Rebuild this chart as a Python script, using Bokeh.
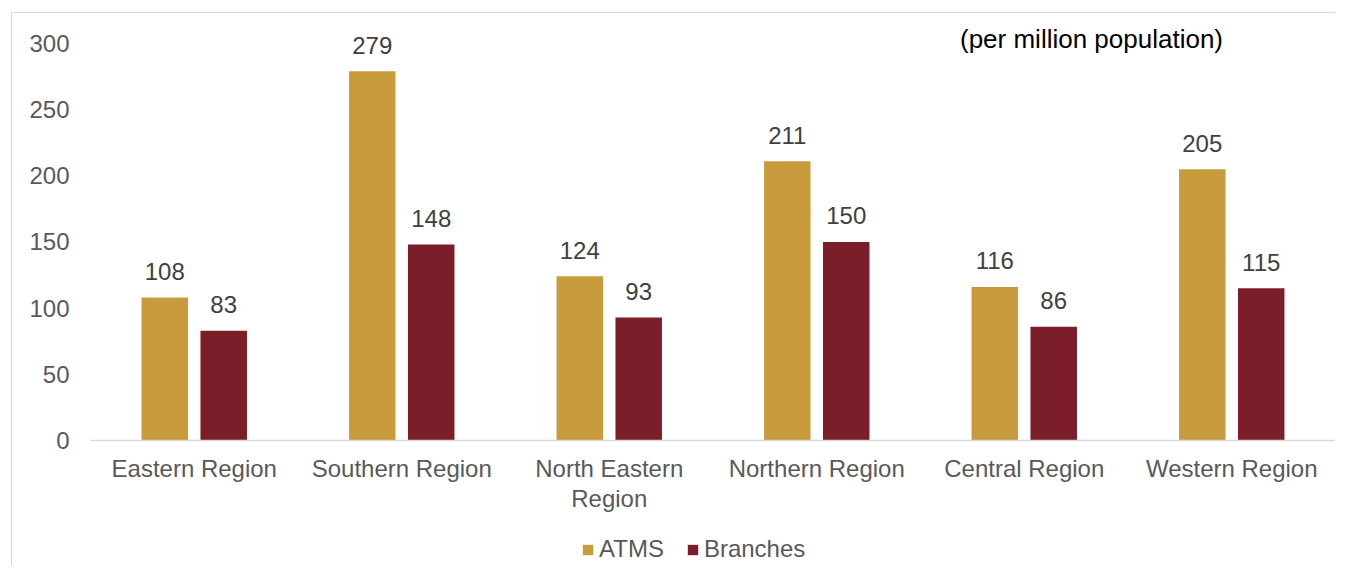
from bokeh.plotting import figure
from bokeh.layouts import column
from bokeh.models import (ColumnDataSource, FactorRange, Range1d, Legend, LegendItem, Label,
                          CategoricalAxis, CustomJSTickFormatter)
from bokeh.transform import dodge
from bokeh.core.properties import value
from bokeh.embed import file_html
from bokeh.resources import INLINE

regions = ["Eastern Region", "Southern Region", "North Eastern Region",
           "Northern Region", "Central Region", "Western Region"]
# two-line tick label for the long category
wrapped_region = "North Eastern Region"
wrapped_first, wrapped_second = "North Eastern", "Region"
atms = [108, 279, 124, 211, 116, 205]
branches = [83, 148, 93, 150, 86, 115]
y_ticks = [0, 50, 100, 150, 200, 250, 300]
series_names = ["ATMS", "Branches"]

FONT = "Liberation Sans"
ATM_COLOR = "#C89B3C"
BR_COLOR = "#7B1E2A"
TICK_COLOR = "#595959"
BORDER = "1px solid #D9D9D9"
FS = "24px"

src = ColumnDataSource(dict(
    region=regions,
    atms=atms,
    branches=branches,
    atms_lbl=[str(v) for v in atms],
    br_lbl=[str(v) for v in branches],
))

xr = FactorRange(*regions, range_padding=0)

p = figure(
    x_range=xr,
    y_range=Range1d(0, 312),
    width=1324, height=501,
    output_backend="svg", toolbar_location=None,
    min_border_left=78, min_border_right=1,
    min_border_top=14, min_border_bottom=70,
    margin=(12, 0, 0, 11),
)
p.styles = {"border-top": BORDER, "border-left": BORDER}
p.outline_line_color = None
p.background_fill_color = "white"
p.border_fill_color = "white"
p.xgrid.visible = False
p.ygrid.visible = False

off = 0.142
w = 0.224
p.vbar(x=dodge("region", -off, range=xr), top="atms", width=w,
       source=src, fill_color=ATM_COLOR, line_color=None)
p.vbar(x=dodge("region", off, range=xr), top="branches", width=w,
       source=src, fill_color=BR_COLOR, line_color=None)

p.text(x=dodge("region", -off, range=xr), y="atms", text="atms_lbl", source=src,
       text_align="center", text_baseline="alphabetic", y_offset=-26,
       text_font=value(FONT), text_font_size=FS, text_color="#404040")
p.text(x=dodge("region", off, range=xr), y="branches", text="br_lbl", source=src,
       text_align="center", text_baseline="alphabetic", y_offset=-26,
       text_font=value(FONT), text_font_size=FS, text_color="#404040")

# y axis
p.yaxis.ticker = y_ticks
p.yaxis.axis_line_color = None
p.yaxis.major_tick_line_color = None
p.yaxis.minor_tick_line_color = None
p.yaxis.major_tick_out = 0
p.yaxis.major_label_standoff = 21
p.yaxis.major_label_text_font = FONT
p.yaxis.major_label_text_font_size = FS
p.yaxis.major_label_text_color = TICK_COLOR

# x axis (first line of labels)
xa = p.xaxis[0]
xa.axis_line_color = "#D9D9D9"
xa.axis_line_width = 1.5
xa.major_tick_line_color = None
xa.minor_tick_line_color = None
xa.major_tick_out = 0
xa.major_label_standoff = 14
xa.major_label_text_font = FONT
xa.major_label_text_font_size = FS
xa.major_label_text_color = TICK_COLOR
xa.formatter = CustomJSTickFormatter(
    args=dict(full=wrapped_region, first=wrapped_first),
    code="return tick == full ? first : tick;")

# second line of the wrapped tick label
xa2 = CategoricalAxis(
    formatter=CustomJSTickFormatter(
        args=dict(full=wrapped_region, second=wrapped_second),
        code="return tick == full ? second : '';"),
    axis_line_color=None, major_tick_line_color=None, minor_tick_line_color=None,
    major_tick_out=0, major_tick_in=0, major_label_standoff=0,
    major_label_text_font=FONT, major_label_text_font_size=FS,
    major_label_text_color=TICK_COLOR,
)
p.add_layout(xa2, "below")

note = Label(x=1001, y=303, x_units="screen", y_units="data",
             text="(per million population)", text_align="center", text_baseline="middle",
             text_font=FONT, text_font_size="26px", text_color="#000000")
p.add_layout(note)

# legend strip below the chart (same bars, kept out of view; only their swatches show)
p2 = figure(
    x_range=xr, y_range=Range1d(1000, 1001),
    width=1324, height=53,
    output_backend="svg", toolbar_location=None,
    x_axis_location=None, y_axis_location=None,
    min_border_left=0, min_border_right=0, min_border_top=0, min_border_bottom=0,
    margin=(0, 0, 0, 11),
)
p2.styles = {"border-left": BORDER}
p2.outline_line_color = None
p2.grid.visible = False
p2.background_fill_color = "white"
p2.border_fill_color = "white"
k1 = p2.vbar(x=dodge("region", -off, range=xr), top="atms", width=w,
             source=src, fill_color=ATM_COLOR, line_color=None)
k2 = p2.vbar(x=dodge("region", off, range=xr), top="branches", width=w,
             source=src, fill_color=BR_COLOR, line_color=None)

legend = Legend(
    items=[LegendItem(label=series_names[0], renderers=[k1]),
           LegendItem(label=series_names[1], renderers=[k2])],
    orientation="horizontal",
    location=(491, 3),
    padding=0, margin=0, spacing=22,
    glyph_width=13, glyph_height=13, label_standoff=5,
    label_text_font=FONT, label_text_font_size=FS, label_text_color=TICK_COLOR,
    background_fill_alpha=0, border_line_color=None,
)
p2.add_layout(legend, "center")

layout = column(p, p2, spacing=0)
open("out.html", "w").write(file_html(layout, INLINE))
